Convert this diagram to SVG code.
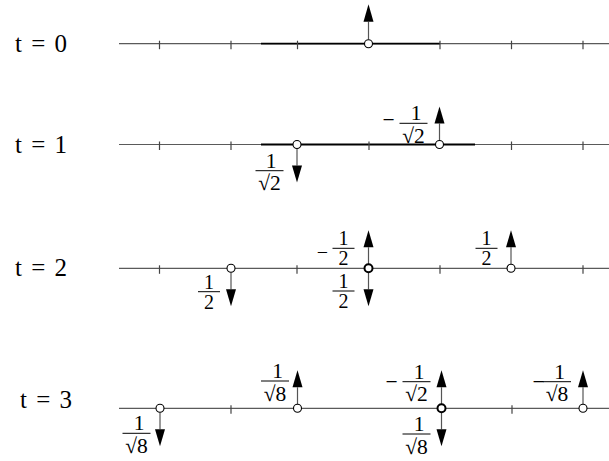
<svg xmlns="http://www.w3.org/2000/svg" xmlns:xlink="http://www.w3.org/1999/xlink" width="609" height="461" viewBox="0 0 609 461">
  <style>
    .axis { stroke: #5a5a5a; stroke-width: 1.2; fill: none; }
    .heavy { stroke: #000; stroke-width: 1.8; fill: none; }
    .tick { stroke: #444; stroke-width: 1.2; }
    .shaft { stroke: #555; stroke-width: 1.2; }
    .head { fill: #000; stroke: none; }
    .dot { fill: #fff; stroke: #000; stroke-width: 1.1; }
    .dot2 { fill: #fff; stroke: #000; stroke-width: 2; }
    .bar { stroke: #000; stroke-width: 1; }
    .lbl { font-size: 25px; fill: #000; word-spacing: 3px; }
    .num { font-size: 21.5px; fill: #000; text-anchor: middle; }
    .half .num { font-size: 20px; }
  </style>
  <defs>
    <g id="up">
      <line class="shaft" x1="0" y1="-4" x2="0" y2="-21"/>
      <path class="head" d="M-5,-21 L0,-38 L5,-21 Z"/>
    </g>
    <g id="down">
      <line class="shaft" x1="0" y1="4" x2="0" y2="21"/>
      <path class="head" d="M-5,21 L0,38 L5,21 Z"/>
    </g>
    <line id="tk" class="tick" x1="0" y1="-3" x2="0" y2="5.5"/>
  </defs>

  <g font-family="Liberation Serif, Times New Roman, DejaVu Serif, serif">

  <!-- time labels -->
  <g id="labels">
    <text class="lbl" x="15" y="51.5">t = 0</text>
    <text class="lbl" x="15" y="152.5">t = 1</text>
    <text class="lbl" x="15" y="276">t = 2</text>
    <text class="lbl" x="20" y="407.5">t = 3</text>
  </g>

  <!-- axes and ticks -->
  <g id="connectors">
    <line class="axis" x1="119" y1="43.7" x2="609" y2="43.7"/>
    <line class="heavy" x1="261" y1="43.7" x2="440" y2="43.7"/>
    <line class="axis" x1="119" y1="144.5" x2="609" y2="144.5"/>
    <line class="heavy" x1="261" y1="144.5" x2="475" y2="144.5"/>
    <line class="axis" x1="119" y1="268.3" x2="609" y2="268.3"/>
    <line class="axis" x1="119" y1="408.3" x2="609" y2="408.3"/>

    <use xlink:href="#tk" x="159.5" y="43.7"/>
    <use xlink:href="#tk" x="231" y="43.7"/>
    <use xlink:href="#tk" x="297.5" y="43.7"/>
    <use xlink:href="#tk" x="440" y="43.7"/>
    <use xlink:href="#tk" x="511.5" y="43.7"/>
    <use xlink:href="#tk" x="583" y="43.7"/>

    <use xlink:href="#tk" x="159.5" y="144.5"/>
    <use xlink:href="#tk" x="231" y="144.5"/>
    <use xlink:href="#tk" x="369" y="144.5"/>
    <use xlink:href="#tk" x="511.5" y="144.5"/>
    <use xlink:href="#tk" x="583" y="144.5"/>

    <use xlink:href="#tk" x="159.5" y="268.3"/>
    <use xlink:href="#tk" x="297" y="268.3"/>
    <use xlink:href="#tk" x="440" y="268.3"/>
    <use xlink:href="#tk" x="583" y="268.3"/>

    <use xlink:href="#tk" x="231" y="408.3"/>
    <use xlink:href="#tk" x="512" y="408.3"/>
  </g>

  <!-- t = 0 -->
  <g id="n0a" transform="translate(368.5,43.7)">
    <use xlink:href="#up" transform="scale(1,1.04)"/>
    <circle class="dot" r="4"/>
  </g>

  <!-- t = 1 -->
  <g id="n1a" transform="translate(297,144.5)">
    <use xlink:href="#down"/>
    <circle class="dot" r="4"/>
    <g transform="translate(-27.5,26.2)">
      <line class="bar" x1="-14" y1="0" x2="14" y2="0"/>
      <text class="num" x="1.5" y="-3">1</text>
      <text class="num" x="0" y="19.5">√2</text>
    </g>
  </g>
  <g id="n1b" transform="translate(439.5,144.5)">
    <use xlink:href="#up"/>
    <circle class="dot" r="4"/>
    <g transform="translate(-26,-21.2)">
      <line class="bar" x1="-14" y1="0" x2="14" y2="0"/>
      <text class="num" x="2.5" y="-3">1</text>
      <text class="num" x="0" y="19.5">√2</text>
      <text class="num" x="-25" y="4">−</text>
    </g>
  </g>

  <!-- t = 2 -->
  <g id="n2a" class="half" transform="translate(231,268.3)">
    <use xlink:href="#down"/>
    <circle class="dot" r="4"/>
    <g transform="translate(-22,23.4)">
      <line class="bar" x1="-11" y1="0" x2="11" y2="0"/>
      <text class="num" x="0" y="-3">1</text>
      <text class="num" x="0" y="17">2</text>
    </g>
  </g>
  <g id="n2b" class="half" transform="translate(368.5,268.3)">
    <use xlink:href="#up"/>
    <use xlink:href="#down"/>
    <circle class="dot2" r="4"/>
    <g transform="translate(-25,-20)">
      <line class="bar" x1="-11" y1="0" x2="11" y2="0"/>
      <text class="num" x="0" y="-3">1</text>
      <text class="num" x="0" y="17">2</text>
      <text class="num" x="-21" y="11">−</text>
    </g>
    <g transform="translate(-25,22.7)">
      <line class="bar" x1="-11" y1="0" x2="11" y2="0"/>
      <text class="num" x="0" y="-3">1</text>
      <text class="num" x="0" y="17">2</text>
    </g>
  </g>
  <g id="n2c" class="half" transform="translate(511,268.3)">
    <use xlink:href="#up"/>
    <circle class="dot" r="4"/>
    <g transform="translate(-24.5,-20)">
      <line class="bar" x1="-11" y1="0" x2="11" y2="0"/>
      <text class="num" x="0" y="-3">1</text>
      <text class="num" x="0" y="17">2</text>
    </g>
  </g>

  <!-- t = 3 -->
  <g id="n3a" transform="translate(160,408.3)">
    <use xlink:href="#down"/>
    <circle class="dot" r="4"/>
    <g transform="translate(-23.5,25)">
      <line class="bar" x1="-14" y1="0" x2="14" y2="0"/>
      <text class="num" x="2.5" y="-3">1</text>
      <text class="num" x="0" y="19.5">√8</text>
    </g>
  </g>
  <g id="n3b" transform="translate(297.5,408.3)">
    <use xlink:href="#up"/>
    <circle class="dot" r="4"/>
    <g transform="translate(-22.5,-27.3)">
      <line class="bar" x1="-14" y1="0" x2="14" y2="0"/>
      <text class="num" x="2.5" y="-3">1</text>
      <text class="num" x="0" y="19.5">√8</text>
    </g>
  </g>
  <g id="n3c" transform="translate(441.5,408.3)">
    <use xlink:href="#up"/>
    <use xlink:href="#down"/>
    <circle class="dot2" r="4"/>
    <g transform="translate(-25,-26.6)">
      <line class="bar" x1="-14" y1="0" x2="14" y2="0"/>
      <text class="num" x="2.5" y="-3">1</text>
      <text class="num" x="0" y="19.5">√2</text>
      <text class="num" x="-25" y="7">−</text>
    </g>
    <g transform="translate(-25,25.7)">
      <line class="bar" x1="-14" y1="0" x2="14" y2="0"/>
      <text class="num" x="2.5" y="-3">1</text>
      <text class="num" x="0" y="19.5">√8</text>
    </g>
  </g>
  <g id="n3d" transform="translate(583,408.3)">
    <use xlink:href="#up"/>
    <circle class="dot" r="4"/>
    <g transform="translate(-26,-26.6)">
      <line class="bar" x1="-14" y1="0" x2="14" y2="0"/>
      <text class="num" x="2.5" y="-3">1</text>
      <text class="num" x="0" y="19.5">√8</text>
      <text class="num" x="-18.5" y="7">−</text>
    </g>
  </g>

  </g>
</svg>
